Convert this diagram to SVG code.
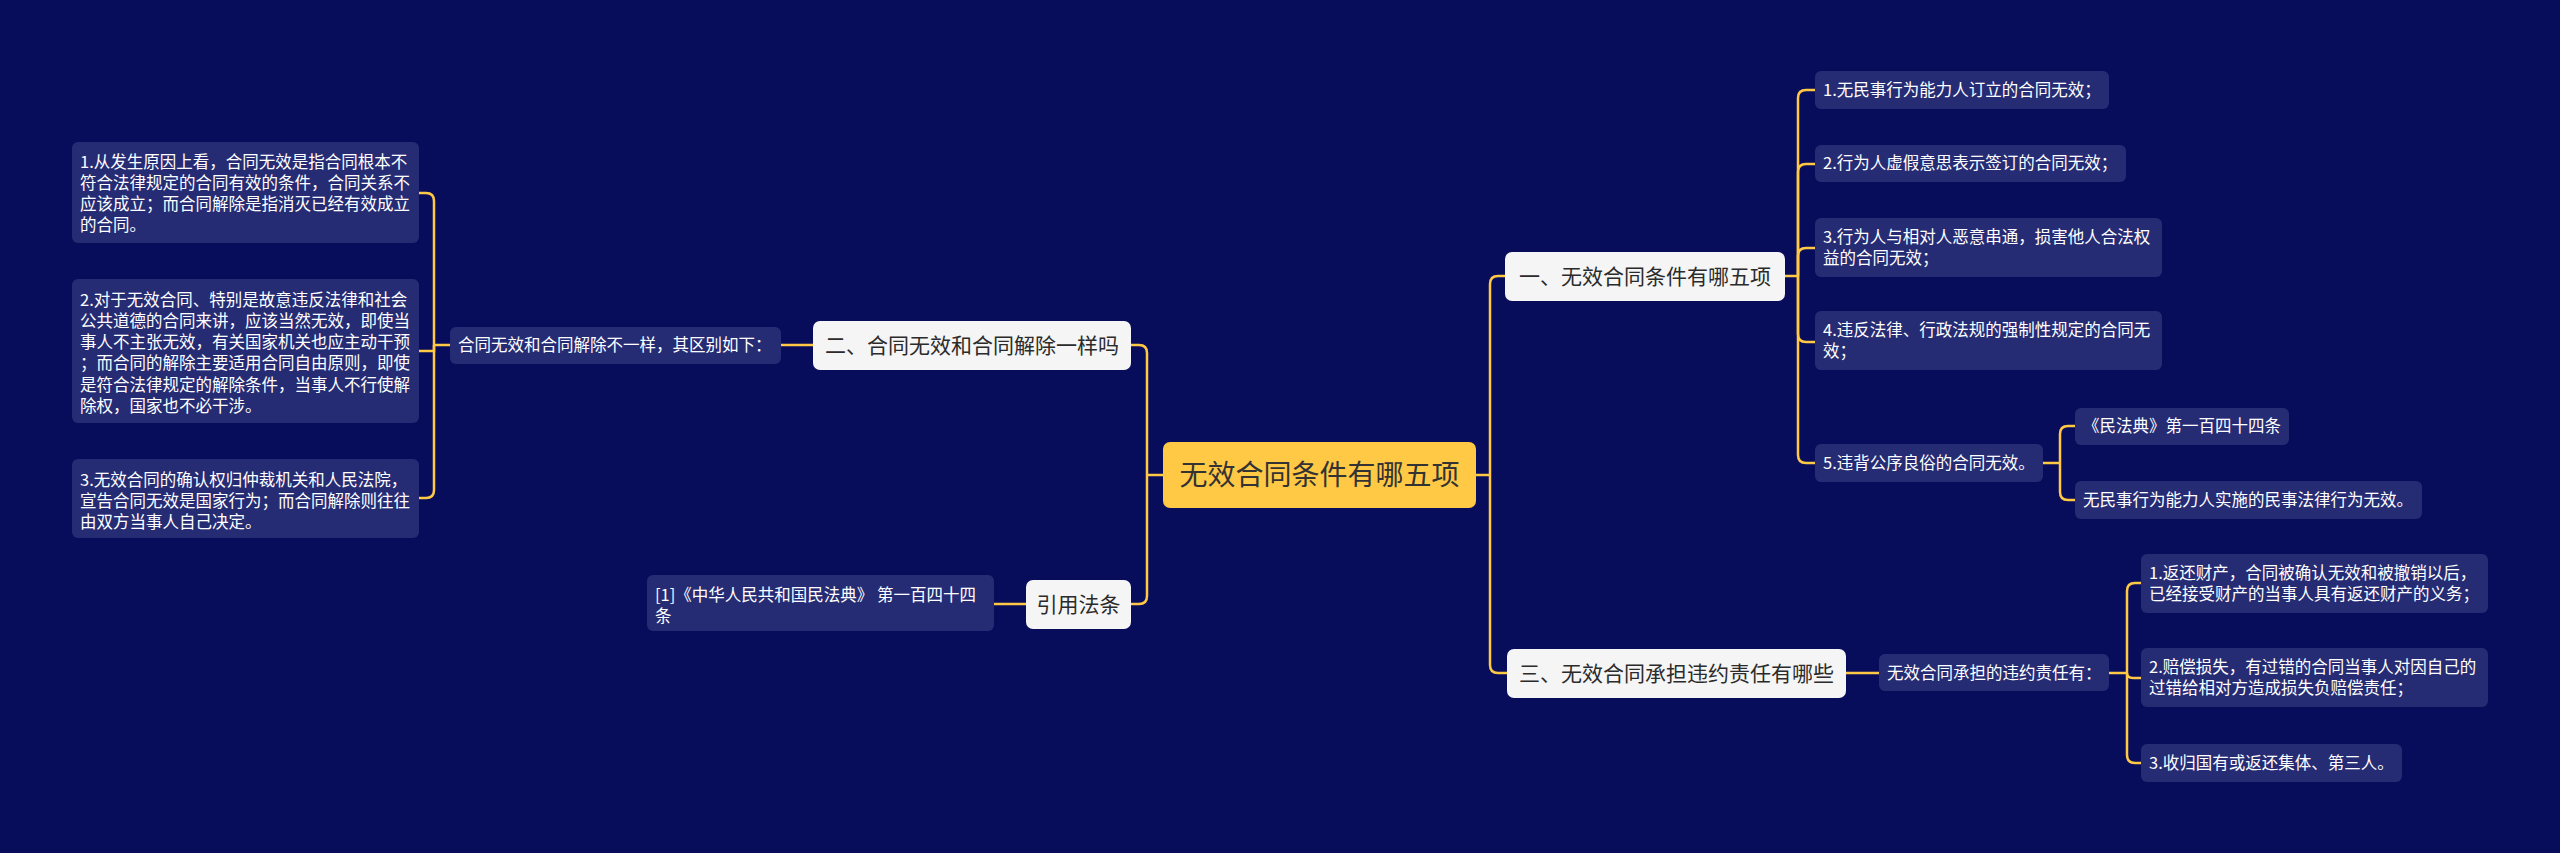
<svg xmlns="http://www.w3.org/2000/svg" width="2560" height="853" viewBox="0 0 2560 853">
<style>
.bg{fill:#080D5B}
.sm rect{fill:#262C74}
.sm text{fill:#FFFFFF;font-family:"Noto Sans CJK SC","Noto Sans",sans-serif;font-size:16.5px}
.l1 rect{fill:#F5F5F5}
.l1 text{fill:#2B2B2B;font-family:"Noto Sans CJK SC","Noto Sans",sans-serif;font-size:21px;text-anchor:middle}
.root rect{fill:#FFC845}
.root text{fill:#333333;font-family:"Noto Sans CJK SC","Noto Sans",sans-serif;font-size:28px;text-anchor:middle}
#connectors path{fill:none;stroke:#FFC845;stroke-width:2.5}
</style>
<rect class="bg" x="0" y="0" width="2560" height="853"/>
<g id="connectors">
<path d="M1163,475 H1147"/>
<path d="M1147,475 V353 Q1147,345 1139,345 H1131"/>
<path d="M1147,475 V596 Q1147,604 1139,604 H1131"/>
<path d="M1476,475 H1490"/>
<path d="M1490,475 V284 Q1490,276 1498,276 H1505"/>
<path d="M1490,475 V665 Q1490,673 1498,673 H1507"/>
<path d="M813,345 H781"/>
<path d="M450,345 H434"/>
<path d="M434,345 V201 Q434,193 426,193 H419"/>
<path d="M434,345 V351 H419"/>
<path d="M434,345 V490 Q434,498 426,498 H419"/>
<path d="M1026,604 H994"/>
<path d="M1785,276 H1798"/>
<path d="M1798,276 V98 Q1798,90 1806,90 H1815"/>
<path d="M1798,276 V172 Q1798,164 1806,164 H1815"/>
<path d="M1798,276 V256 Q1798,248 1806,248 H1815"/>
<path d="M1798,276 V334 Q1798,342 1806,342 H1815"/>
<path d="M1798,276 V455 Q1798,463 1806,463 H1815"/>
<path d="M2043,463 H2060"/>
<path d="M2060,463 V434 Q2060,426 2068,426 H2075"/>
<path d="M2060,463 V492 Q2060,500 2068,500 H2075"/>
<path d="M1846,673 H1879"/>
<path d="M2109,673 H2127"/>
<path d="M2127,673 V591 Q2127,583 2135,583 H2141"/>
<path d="M2127,673 Q2127,678 2133,678 H2141"/>
<path d="M2127,673 V755 Q2127,763 2135,763 H2141"/>
</g>
<g id="root" class="root"><rect x="1163" y="442" width="313" height="66" rx="7"/><text x="1319.5" y="485">无效合同条件有哪五项</text></g>
<g id="n2" class="l1"><rect x="813" y="321" width="318" height="49" rx="7"/><text x="972" y="353">二、合同无效和合同解除一样吗</text></g>
<g id="n_cite" class="l1"><rect x="1026" y="580" width="105" height="49" rx="7"/><text x="1078.5" y="612">引用法条</text></g>
<g id="n1" class="l1"><rect x="1505" y="252" width="280" height="49" rx="7"/><text x="1645" y="284">一、无效合同条件有哪五项</text></g>
<g id="n3" class="l1"><rect x="1507" y="649" width="339" height="49" rx="7"/><text x="1676.5" y="681">三、无效合同承担违约责任有哪些</text></g>
<g id="n2a" class="sm"><rect x="450" y="327" width="331" height="37" rx="6"/><text x="458" y="351">合同无效和合同解除不一样，其区别如下：</text></g>
<g id="n2a1" class="sm"><rect x="72" y="142" width="347" height="101" rx="6"/><text x="80" y="168">1.从发生原因上看，合同无效是指合同根本不</text><text x="80" y="189">符合法律规定的合同有效的条件，合同关系不</text><text x="80" y="210">应该成立；而合同解除是指消灭已经有效成立</text><text x="80" y="231">的合同。</text></g>
<g id="n2a2" class="sm"><rect x="72" y="279" width="347" height="144" rx="6"/><text x="80" y="306">2.对于无效合同、特别是故意违反法律和社会</text><text x="80" y="327">公共道德的合同来讲，应该当然无效，即使当</text><text x="80" y="348">事人不主张无效，有关国家机关也应主动干预</text><text x="80" y="369">；而合同的解除主要适用合同自由原则，即使</text><text x="80" y="391">是符合法律规定的解除条件，当事人不行使解</text><text x="80" y="412">除权，国家也不必干涉。</text></g>
<g id="n2a3" class="sm"><rect x="72" y="459" width="347" height="79" rx="6"/><text x="80" y="486">3.无效合同的确认权归仲裁机关和人民法院，</text><text x="80" y="507">宣告合同无效是国家行为；而合同解除则往往</text><text x="80" y="528">由双方当事人自己决定。</text></g>
<g id="n_cite1" class="sm"><rect x="647" y="575" width="347" height="56" rx="6"/><text x="655" y="601">[1]《中华人民共和国民法典》 第一百四十四</text><text x="655" y="622">条</text></g>
<g id="n1a" class="sm"><rect x="1815" y="71" width="294" height="38" rx="6"/><text x="1823" y="96">1.无民事行为能力人订立的合同无效；</text></g>
<g id="n1b" class="sm"><rect x="1815" y="145" width="311" height="37" rx="6"/><text x="1823" y="169">2.行为人虚假意思表示签订的合同无效；</text></g>
<g id="n1c" class="sm"><rect x="1815" y="218" width="347" height="59" rx="6"/><text x="1823" y="243">3.行为人与相对人恶意串通，损害他人合法权</text><text x="1823" y="264">益的合同无效；</text></g>
<g id="n1d" class="sm"><rect x="1815" y="311" width="347" height="59" rx="6"/><text x="1823" y="336">4.违反法律、行政法规的强制性规定的合同无</text><text x="1823" y="357">效；</text></g>
<g id="n1e" class="sm"><rect x="1815" y="444" width="228" height="38" rx="6"/><text x="1823" y="469">5.违背公序良俗的合同无效。</text></g>
<g id="n1e1" class="sm"><rect x="2075" y="408" width="214" height="37" rx="6"/><text x="2083" y="432">《民法典》第一百四十四条</text></g>
<g id="n1e2" class="sm"><rect x="2075" y="481" width="347" height="38" rx="6"/><text x="2083" y="506">无民事行为能力人实施的民事法律行为无效。</text></g>
<g id="n3a" class="sm"><rect x="1879" y="654" width="230" height="37" rx="6"/><text x="1887" y="679">无效合同承担的违约责任有：</text></g>
<g id="n3a1" class="sm"><rect x="2141" y="554" width="347" height="59" rx="6"/><text x="2149" y="579">1.返还财产，合同被确认无效和被撤销以后，</text><text x="2149" y="600">已经接受财产的当事人具有返还财产的义务；</text></g>
<g id="n3a2" class="sm"><rect x="2141" y="648" width="347" height="59" rx="6"/><text x="2149" y="673">2.赔偿损失，有过错的合同当事人对因自己的</text><text x="2149" y="694">过错给相对方造成损失负赔偿责任；</text></g>
<g id="n3a3" class="sm"><rect x="2141" y="744" width="261" height="38" rx="6"/><text x="2149" y="769">3.收归国有或返还集体、第三人。</text></g>
</svg>
